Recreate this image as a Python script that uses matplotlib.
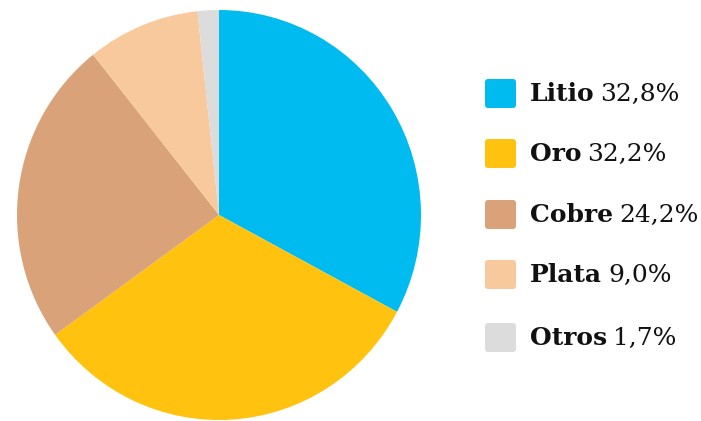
import matplotlib
matplotlib.use("Agg")
import matplotlib.pyplot as plt
from matplotlib.patches import FancyBboxPatch

labels = ["Litio", "Oro", "Cobre", "Plata", "Otros"]
values = [32.8, 32.2, 24.2, 9.0, 1.7]
pct_text = ["32,8%", "32,2%", "24,2%", "9,0%", "1,7%"]
colors = ["#00BBF0", "#FFC20E", "#D9A278", "#F8C99C", "#DCDCDC"]

W, H = 701, 421
fig = plt.figure(figsize=(W / 100, H / 100), dpi=100)
fig.patch.set_facecolor("white")

cx, cy, rx, ry = 219, 215, 202, 205
ax = fig.add_axes([(cx - rx) / W, (H - cy - ry) / H, 2 * rx / W, 2 * ry / H])
ax.pie(values, colors=colors, startangle=90, counterclock=False,
       wedgeprops=dict(linewidth=0), radius=1.0)
ax.set_aspect("auto")
ax.set_xlim(-1, 1)
ax.set_ylim(-1, 1)
ax.axis("off")

# legend
lax = fig.add_axes([0, 0, 1, 1])
lax.set_xlim(0, W)
lax.set_ylim(H, 0)
lax.axis("off")

rows_y = [93, 153, 214, 274, 337]
fig.canvas.draw()
renderer = fig.canvas.get_renderer()
for i, lab in enumerate(labels):
    y = rows_y[i]
    box = FancyBboxPatch((485, y - 14), 31, 29,
                         boxstyle="round,pad=0,rounding_size=3",
                         facecolor=colors[i], edgecolor="none")
    lax.add_patch(box)
    t = lax.text(530, y + 1, lab, fontsize=18, fontweight="bold",
                 family="DejaVu Serif", va="center", ha="left", color="#111111")
    bb = t.get_window_extent(renderer=renderer)
    x2 = bb.x1 + 6
    fig.text(x2 / W, (H - y - 1) / H, pct_text[i], fontsize=18,
             family="DejaVu Serif", va="center", ha="left", color="#111111")

fig.savefig("out.png", dpi=100, facecolor="white")
